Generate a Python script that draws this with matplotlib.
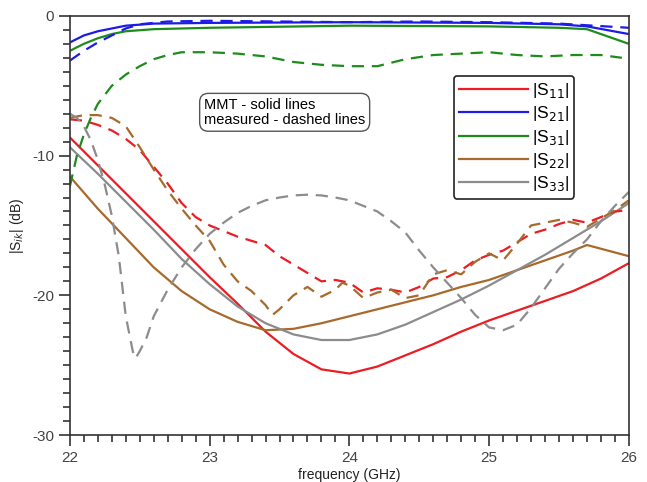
import matplotlib.pyplot as plt
from matplotlib.ticker import MultipleLocator
import numpy as np

plt.rcParams['font.family'] = ['Liberation Sans', 'DejaVu Sans']
plt.rcParams['axes.unicode_minus'] = False

# MMT (solid) curves
f_sim = [22.0, 22.2, 22.4, 22.6, 22.8, 23.0, 23.2, 23.4, 23.6, 23.8, 24.0,
         24.2, 24.4, 24.6, 24.8, 25.0, 25.2, 25.4, 25.6, 25.8, 26.0]
s11_sim = [-8.7, -10.7, -12.7, -14.7, -16.7, -18.7, -20.6, -22.6, -24.2, -25.3, -25.6,
           -25.1, -24.3, -23.5, -22.6, -21.8, -21.1, -20.4, -19.7, -18.8, -17.7]
s33_sim = [-9.4, -11.3, -13.3, -15.3, -17.4, -19.2, -20.8, -22.0, -22.8, -23.2, -23.2,
           -22.8, -22.1, -21.2, -20.3, -19.3, -18.2, -17.1, -15.9, -14.7, -13.4]

f_s22 = [22.0, 22.2, 22.4, 22.6, 22.8, 23.0, 23.2, 23.4, 23.6, 23.8, 24.0,
         24.2, 24.4, 24.6, 24.8, 25.0, 25.2, 25.4, 25.6, 25.7, 26.0]
s22_sim = [-11.5, -13.8, -15.9, -18.0, -19.7, -21.0, -21.9, -22.5, -22.4, -22.0, -21.5,
           -21.0, -20.5, -20.0, -19.4, -18.9, -18.2, -17.5, -16.8, -16.4, -17.2]

f_thru = [22.0, 22.1, 22.2, 22.3, 22.4, 22.6, 23.0, 24.0, 25.0, 25.5, 25.7, 26.0]
s21_sim = [-1.9, -1.4, -1.1, -0.9, -0.7, -0.55, -0.5, -0.45, -0.5, -0.6, -0.75, -1.3]
s31_sim = [-2.5, -2.0, -1.6, -1.3, -1.1, -0.95, -0.85, -0.7, -0.75, -0.85, -0.95, -2.0]

# measured (dashed) curves
f_s21m = [22.0, 22.1, 22.2, 22.3, 22.4, 22.5, 22.7, 23.0, 23.5, 24.0, 24.5, 25.0, 25.5, 26.0]
s21_meas = [-3.2, -2.5, -1.9, -1.4, -0.9, -0.6, -0.4, -0.35, -0.4, -0.45, -0.4, -0.45, -0.55, -0.85]

f_s31m = [22.0, 22.05, 22.1, 22.15, 22.2, 22.3, 22.4, 22.5, 22.6, 22.7, 22.8, 23.0, 23.2,
          23.4, 23.6, 23.8, 24.0, 24.2, 24.4, 24.6, 24.8, 25.0, 25.2, 25.4, 25.6, 25.8, 25.95]
s31_meas = [-12.2, -10.0, -8.5, -7.3, -6.3, -5.0, -4.2, -3.6, -3.1, -2.8, -2.6, -2.6, -2.7,
            -2.9, -3.3, -3.5, -3.6, -3.6, -3.1, -2.8, -2.7, -2.6, -2.8, -2.9, -2.8, -2.8, -3.0]

f_s11m = [22.0, 22.1, 22.2, 22.3, 22.4, 22.5, 22.6, 22.7, 22.8, 22.9, 23.0, 23.1, 23.2, 23.3,
          23.4, 23.5, 23.6, 23.7, 23.8, 23.9, 24.0, 24.1, 24.2, 24.3, 24.4, 24.5, 24.6, 24.7,
          24.8, 24.9, 25.0, 25.1, 25.2, 25.3, 25.4, 25.5, 25.6, 25.7, 25.8, 25.9, 26.0]
s11_meas = [-7.4, -7.5, -7.8, -8.2, -8.8, -9.6, -10.8, -12.0, -13.4, -14.4, -15.0, -15.4, -15.8, -16.1,
            -16.4, -17.2, -17.8, -18.4, -19.0, -18.9, -19.1, -19.8, -19.5, -19.6, -19.8, -19.4, -18.8, -18.7,
            -18.2, -17.5, -17.1, -16.8, -16.2, -15.6, -15.3, -14.9, -14.6, -14.8, -14.4, -14.0, -13.9]

f_s22m = [22.0, 22.1, 22.2, 22.3, 22.4, 22.5, 22.6, 22.7, 22.8, 22.9, 23.0, 23.1, 23.2, 23.3,
          23.4, 23.45, 23.5, 23.6, 23.7, 23.8, 23.9, 23.95, 24.0, 24.1, 24.2, 24.3, 24.4, 24.5,
          24.6, 24.7, 24.8, 24.9, 25.0, 25.1, 25.2, 25.3, 25.4, 25.5, 25.6, 25.7, 25.8, 25.9, 26.0]
s22_meas = [-7.3, -7.1, -7.1, -7.3, -7.9, -9.4, -11.0, -12.5, -13.8, -15.0, -16.1, -17.8, -19.0, -19.7,
            -20.7, -21.4, -21.0, -20.0, -19.4, -20.1, -19.6, -19.1, -19.3, -20.2, -19.8, -19.6, -20.2, -20.0,
            -18.5, -18.2, -18.5, -17.6, -17.0, -17.5, -16.3, -15.0, -14.8, -14.6, -14.8, -15.1, -14.5, -13.9, -13.2]

f_s33m = [22.0, 22.05, 22.1, 22.15, 22.2, 22.25, 22.3, 22.35, 22.4, 22.45, 22.47, 22.5, 22.55,
          22.6, 22.7, 22.8, 22.9, 23.0, 23.1, 23.2, 23.3, 23.4, 23.5, 23.6, 23.7, 23.8, 23.9,
          24.0, 24.1, 24.2, 24.3, 24.4, 24.5, 24.6, 24.7, 24.8, 24.9, 25.0, 25.1, 25.2, 25.3,
          25.4, 25.5, 25.6, 25.7, 25.8, 25.9, 26.0]
s33_meas = [-7.0, -7.3, -7.9, -8.9, -10.3, -12.1, -14.3, -17.2, -21.5, -24.0, -24.5, -24.0, -23.0,
            -21.5, -19.6, -18.0, -16.7, -15.6, -14.8, -14.1, -13.6, -13.2, -13.0, -12.85, -12.8, -12.85, -13.0,
            -13.2, -13.6, -14.0, -14.7, -15.5, -16.8, -18.0, -19.1, -20.2, -21.4, -22.3, -22.5, -22.1, -20.9,
            -19.5, -18.1, -17.0, -16.0, -14.7, -13.6, -12.6]

RED = '#ec1c24'
BLUE = '#1c1ce6'
GREEN = '#1d8c1d'
BROWN = '#a86a2c'
GRAY = '#8c8c8c'

fig, ax = plt.subplots(figsize=(6.47, 4.82), dpi=100)
fig.subplots_adjust(left=0.108, right=0.972, bottom=0.0975, top=0.967)

lw = 1.6
dash = (0, (5.5, 3.5))
ax.plot(f_sim, s11_sim, color=RED, lw=lw, label='|S$_{11}$|')
ax.plot(f_thru, s21_sim, color=BLUE, lw=lw, label='|S$_{21}$|')
ax.plot(f_thru, s31_sim, color=GREEN, lw=lw, label='|S$_{31}$|')
ax.plot(f_s22, s22_sim, color=BROWN, lw=lw, label='|S$_{22}$|')
ax.plot(f_sim, s33_sim, color=GRAY, lw=lw, label='|S$_{33}$|')

ax.plot(f_s11m, s11_meas, color=RED, lw=lw, linestyle=dash)
ax.plot(f_s21m, s21_meas, color=BLUE, lw=lw, linestyle=dash)
ax.plot(f_s31m, s31_meas, color=GREEN, lw=lw, linestyle=dash)
ax.plot(f_s22m, s22_meas, color=BROWN, lw=lw, linestyle=dash)
ax.plot(f_s33m, s33_meas, color=GRAY, lw=lw, linestyle=dash)

ax.set_xlim(22, 26)
ax.set_ylim(-30, 0)
ax.xaxis.set_major_locator(MultipleLocator(1))
ax.xaxis.set_minor_locator(MultipleLocator(0.1))
ax.yaxis.set_major_locator(MultipleLocator(10))
ax.yaxis.set_minor_locator(MultipleLocator(1))
ax.tick_params(which='major', direction='out', length=8, width=1.2, labelsize=11,
               colors='#333333', labelcolor='#444444')
ax.tick_params(which='minor', direction='out', length=5, width=1.2, colors='#333333')
for s in ax.spines.values():
    s.set_color('#333333')
    s.set_linewidth(1.2)

ax.set_xlabel('frequency (GHz)', fontsize=10, color='#222222', labelpad=2)
ax.set_ylabel('|S$_{ik}$| (dB)', fontsize=10, color='#222222', labelpad=4)

leg = ax.legend(loc='upper right', bbox_to_anchor=(0.902, 0.857), borderaxespad=0,
                fontsize=12.5, handlelength=4.0, handletextpad=0.2, labelspacing=0.25,
                framealpha=1, edgecolor='#222222', fancybox=True, borderpad=0.3)
leg.get_frame().set_linewidth(1.2)

ax.text(22.96, -6.9, 'MMT - solid lines\nmeasured - dashed lines', fontsize=10.5,
        va='center', ha='left', linespacing=1.1,
        bbox=dict(boxstyle='round,pad=0.3,rounding_size=0.6', fc='white', ec='#555555', lw=1))

plt.savefig('out.png', dpi=100)
